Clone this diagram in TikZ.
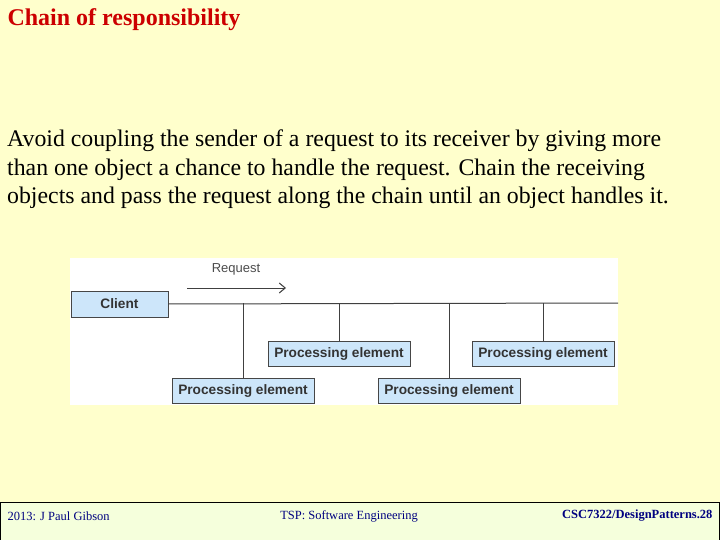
\documentclass[tikz,border=0pt]{standalone}
\usepackage{fontspec}
\setmainfont{Liberation Serif}
\setsansfont{Liberation Sans}
\usetikzlibrary{arrows.meta}
\definecolor{slidebg}{RGB}{255,255,204}
\definecolor{footbg}{RGB}{245,255,220}
\definecolor{titlered}{RGB}{204,0,0}
\definecolor{boxblue}{RGB}{205,230,250}
\definecolor{boxline}{RGB}{70,70,70}
\definecolor{footblue}{RGB}{0,0,128}
\tikzset{
  elem/.style={draw=boxline,fill=boxblue,minimum width=142pt,minimum height=25pt,inner sep=0pt,font=\sffamily\bfseries\fontsize{13.7}{15}\selectfont,text=black!80},
  bus/.style={draw=black!75,line width=1pt}
}
\begin{document}
\begin{tikzpicture}[x=1pt,y=-1pt]
  \fill[slidebg] (0,0) rectangle (720,540);
  \useasboundingbox (0,0) rectangle (720,540);
  \node[anchor=west,text=titlered,font=\bfseries\fontsize{24}{28}\selectfont] (title) at (4,20) {Chain of responsibility};
  \node[anchor=north west,align=left,inner sep=0pt,font=\fontsize{23.8}{28.5}\selectfont] (text) at (7,130)
    {Avoid coupling the sender of a request to its receiver by giving more\\
     than one object a chance to handle the request. Chain the receiving\\
     objects and pass the request along the chain until an object handles it.};

  % diagram
  \fill[white] (70,258) rectangle (618,405);
  \node[elem,minimum width=97pt,minimum height=26pt] (client) at (119.5,304) {Client};
  \coordinate (busend) at (618,303);
  \draw[bus] (client.east) -- (busend);
  \node[elem] (pe1) at (339,353.5) {Processing element};
  \node[elem] (pe2) at (543,353.5) {Processing element};
  \node[elem] (pe3) at (243,391) {Processing element};
  \node[elem] (pe4) at (449,391) {Processing element};
  \foreach \p in {pe1,pe2,pe3,pe4}
    \draw[bus] (\p.north) -- (\p.north |- busend);
  \coordinate (reqa) at (187,288);
  \coordinate (reqb) at (286,288);
  \draw[bus,-{Straight Barb[length=6pt,width=10pt]}] (reqa) -- (reqb);
  \node[font=\sffamily\fontsize{13}{15}\selectfont,text=black!70] (req) at (236,269) {Request};

  % footer
  \draw[fill=footbg,line width=1pt] (0.5,502) rectangle (719.5,540);
  \node[anchor=west,text=footblue,font=\fontsize{12.5}{14}\selectfont] (fl) at (4,516) {2013: J Paul Gibson};
  \node[text=footblue,font=\fontsize{12.5}{14}\selectfont] (fc) at (349,516) {TSP: Software Engineering};
  \node[anchor=east,text=footblue,font=\bfseries\fontsize{12.5}{14}\selectfont] (fr) at (716,516) {CSC7322/DesignPatterns.28};
\end{tikzpicture}
\end{document}
